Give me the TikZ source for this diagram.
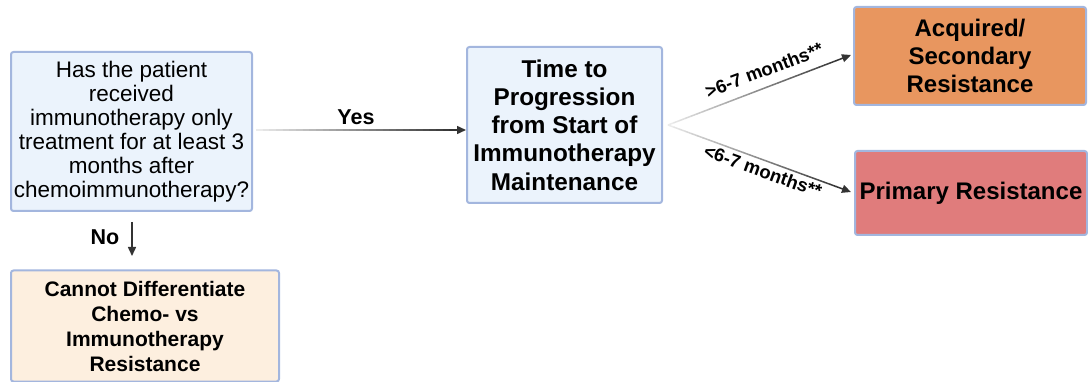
\documentclass[tikz,border=0pt]{standalone}
\usepackage{fontspec}
\setmainfont{Liberation Sans}
\usetikzlibrary{calc,arrows.meta}
\definecolor{bordc}{HTML}{A3B6DE}
\definecolor{qfill}{HTML}{EBF3FC}
\definecolor{ofill}{HTML}{E8965F}
\definecolor{rfill}{HTML}{E07C7C}
\definecolor{cfill}{HTML}{FDEFDF}
\definecolor{arrc}{HTML}{333333}
\tikzset{
  box/.style={draw=bordc,line width=2pt,rounded corners=2.5pt,align=center,inner sep=0pt,anchor=center},
  conn/.style={arrc,line width=1.5pt},
  tip/.style={-{Triangle[length=9pt,width=8pt]},arrc,line width=1.5pt},
  lbl/.style={font=\bfseries\fontsize{18.5}{20}\selectfont,inner sep=0pt}
}
\newcommand{\fadeline}[2]{%
  \foreach \i in {0,...,29}{%
    \pgfmathsetmacro{\pc}{10+90*\i/29}%
    \draw[line width=1.5pt,color=arrc!\pc!white] ($(#1)!\i/30!(#2)$) -- ($(#1)!{(\i+1.05)/30}!(#2)$);
  }}
\begin{document}
\begin{tikzpicture}[x=1pt,y=1pt]
\useasboundingbox (0,0) rectangle (1088,-382);
\node[box,fill=qfill,minimum width=241pt,minimum height=159pt,font=\fontsize{22.5}{24}\selectfont] (q) at (131.5,-131.5)
  {Has the patient\\received\\immunotherapy only\\treatment for at least 3\\months after\\chemoimmunotherapy?};
\node[box,fill=qfill,minimum width=195pt,minimum height=156pt,font=\bfseries\fontsize{24.3}{28.3}\selectfont] (t) at (564.5,-125)
  {Time to\\Progression\\from Start of\\Immunotherapy\\Maintenance};
\node[box,fill=ofill,minimum width=232pt,minimum height=98pt,font=\bfseries\fontsize{24}{28}\selectfont] (a) at (970,-56)
  {Acquired/\\Secondary\\Resistance};
\node[box,fill=rfill,minimum width=232pt,minimum height=84pt,font=\bfseries\fontsize{24}{28}\selectfont] (p) at (971,-193)
  {Primary Resistance};
\node[box,fill=cfill,minimum width=268pt,minimum height=111pt,font=\bfseries\fontsize{21}{25}\selectfont] (c) at (145,-326)
  {Cannot Differentiate\\Chemo- vs\\Immunotherapy\\Resistance};
% Yes
\coordinate (ys) at ($(q.east)+(3,1.5)$);
\coordinate (ye) at ($(t.west |- ys)+(-10,0)$);
\fadeline{ys}{ye}
\draw[tip] (ye) -- (t.west |- ys);
\node[lbl,font=\bfseries\fontsize{21.5}{22}\selectfont] (yl) at (356,-117) {Yes};
% No
\coordinate (ns) at (132,-222);
\draw[tip] (ns) -- (132,-256);
\node[lbl,font=\bfseries\fontsize{21.5}{22}\selectfont] (nl) at (105,-237) {No};
% diagonals
\coordinate (ds) at ($(t.east)+(5,0)$);
\coordinate (ae) at ($(a.west)+(-2,1)$);
\coordinate (pe) at ($(p.west)+(-3,1)$);
\coordinate (ae0) at ($(ae)!10pt!(ds)$);
\coordinate (pe0) at ($(pe)!10pt!(ds)$);
\fadeline{ds}{ae0}
\fadeline{ds}{pe0}
\draw[tip] (ae0) -- (ae);
\draw[tip] (pe0) -- (pe);
\node[lbl,rotate=20.7] (ul) at (764,-70) {>6-7 months**};
\node[lbl,rotate=-19.9] (ll) at (763,-171) {<6-7 months**};
\end{tikzpicture}
\end{document}
